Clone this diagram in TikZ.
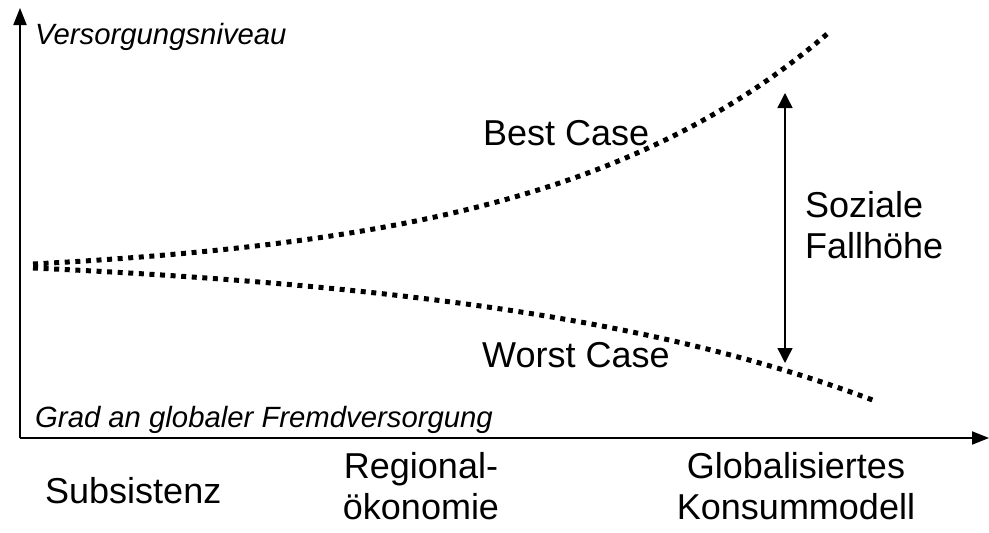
\documentclass[tikz,border=0pt]{standalone}
\usepackage{fontspec}
\setmainfont{Liberation Sans}
\usetikzlibrary{arrows.meta}

\begin{document}
\begin{tikzpicture}[x=1pt, y=-1pt, >={Triangle[length=17pt,width=13pt]},
    axis/.style={line width=2pt, ->},
    scenario/.style={line width=5pt, dash pattern=on 5pt off 5.6pt},
    gap/.style={line width=1.5pt, {Triangle[length=15pt,width=15pt]}-{Triangle[length=15pt,width=15pt]}},
    label/.style={inner sep=0pt, font=\fontsize{36}{41}\selectfont},
    axislabel/.style={inner sep=0pt, font=\fontsize{29.3}{34}\selectfont\itshape}]
    \useasboundingbox (0,0) rectangle (989,533);

    % Axes
    \coordinate (origin) at (20,438);
    \coordinate (ytip) at (20,8);
    \coordinate (xtip) at (989,438);
    \draw[axis] (origin) -- (ytip);
    \draw[axis] (origin) -- (xtip);
    \node[axislabel, anchor=base west] (ylabel) at (35,44) {Versorgungsniveau};
    \node[axislabel, anchor=base west] (xlabel) at (35,427) {Grad an globaler Fremdversorgung};

    % Scenarios
    \draw[scenario] plot[domain=33:830, samples=120, smooth]
        (\x, {264-15.3*(exp(0.0035*(\x-33))-1)});
    \draw[scenario] plot[domain=33:876, samples=120, smooth]
        (\x, {268+18.4*(exp(0.0025*(\x-33))-1)});
    \node[label, anchor=base west] (best) at (483,145) {Best Case};
    \node[label, anchor=base west] (worst) at (482,367) {Worst Case};

    % Fallhoehe (base = last line)
    \coordinate (gaptop) at (785,93);
    \coordinate (gapbottom) at (785,363);
    \draw[gap] (gaptop) -- (gapbottom);
    \node[label, anchor=base west, align=left] (fallhoehe) at (805,258) {Soziale\\Fallhöhe};

    % Stages
    \node[label, anchor=base west] (subsistenz) at (45,503) {Subsistenz};
    \node[label, anchor=base, align=center] (regional) at (421,519) {Regional-\\ökonomie};
    \node[label, anchor=base, align=center] (global) at (796,519) {Globalisiertes\\Konsummodell};
\end{tikzpicture}
\end{document}
